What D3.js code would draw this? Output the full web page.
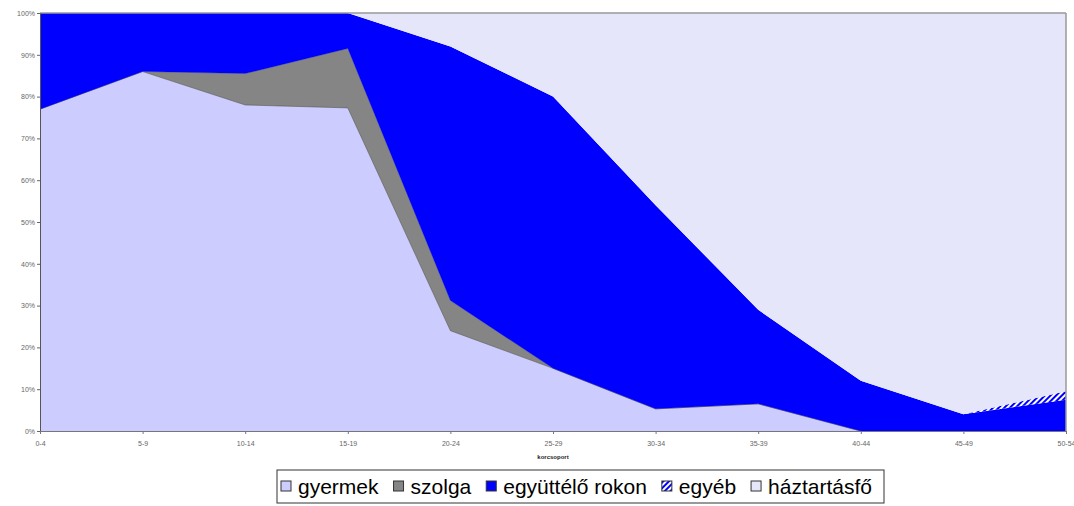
<!DOCTYPE html>
<html>
<head>
<meta charset="utf-8">
<script src="https://cdn.jsdelivr.net/npm/d3@7"></script>
<style>
  body { margin: 0; background: #fff; }
  svg { display: block; }
</style>
</head>
<body>
<script>
// korcsoportok
const ages = ["0-4", "5-9", "10-14", "15-19", "20-24", "25-29", "30-34", "35-39", "40-44", "45-49", "50-54"]

// megoszlás (%) korcsoportonként
const gyermek     = [77, 86, 78, 77.3, 24, 15, 5.3, 6.5, 0, 0, 0]
const szolga      = [0, 0, 7.5, 14.2, 7.2, 0, 0, 0, 0, 0, 0]
const rokon       = [23, 14, 14.5, 8.5, 60.8, 65, 48.7, 22.5, 12, 4, 7.5]
const egyeb       = [0, 0, 0, 0, 0, 0, 0, 0, 0, 0, 2]
const haztartasfo = [0, 0, 0, 0, 8, 20, 46, 71, 88, 96, 90.5]

const yTicks = [0, 10, 20, 30, 40, 50, 60, 70, 80, 90, 100]

const keys = ["gyermek", "szolga", "rokon", "egyeb", "haztartasfo"]
const labels = { gyermek: "gyermek", szolga: "szolga", rokon: "együttélő rokon", egyeb: "egyéb", haztartasfo: "háztartásfő" }
const colors = { gyermek: "#ccccff", szolga: "#858585", rokon: "#0000ff", egyeb: "url(#hatch)", haztartasfo: "#e6e6fa" }

// tábla a d3.stack számára
const table = ages.map((a, i) => ({
    age: a,
    gyermek: gyermek[i], szolga: szolga[i], rokon: rokon[i], egyeb: egyeb[i], haztartasfo: haztartasfo[i]
}))

const W = 1074, H = 506
const margin = { top: 13, right: 8, bottom: 75, left: 40 }
const width = W - margin.left - margin.right
const height = H - margin.top - margin.bottom

const svg = d3.select("body").append("svg")
    .attr("width", W)
    .attr("height", H)

// csíkos minta az "egyéb" kategóriához
const defs = svg.append("defs")
const pat = defs.append("pattern")
    .attr("id", "hatch")
    .attr("patternUnits", "userSpaceOnUse")
    .attr("width", 4).attr("height", 4)
    .attr("patternTransform", "rotate(45)")
pat.append("rect").attr("width", 4).attr("height", 4).attr("fill", "#ffffff")
pat.append("rect").attr("width", 2).attr("height", 4).attr("fill", "#0000ff")

const g = svg.append("g")
    .attr("transform", "translate(" + margin.left + "," + margin.top + ")")

const x = d3.scalePoint().domain(ages).range([0, width])
const y = d3.scaleLinear().domain([0, 100]).range([height, 0])

const series = d3.stack().keys(keys)(table)

const area = d3.area()
    .x(d => x(d.data.age))
    .y0(d => y(d[0]))
    .y1(d => y(d[1]))

g.selectAll("path.layer")
    .data(series)
    .join("path")
    .attr("class", "layer")
    .attr("d", area)
    .attr("fill", d => colors[d.key])
    .attr("stroke", d => d.key === "szolga" ? "#555" : "none")
    .attr("stroke-width", 0.6)

// keret
g.append("line").attr("x1", 0).attr("x2", width).attr("y1", 0).attr("y2", 0)
    .attr("stroke", "#999").attr("stroke-width", 1.5)
g.append("line").attr("x1", width).attr("x2", width).attr("y1", 0).attr("y2", height)
    .attr("stroke", "#999").attr("stroke-width", 1.5)

// Y tengely
const yAxis = g.append("g")
    .call(d3.axisLeft(y).tickValues(yTicks).tickFormat(d => d + "%").tickSize(3).tickSizeOuter(0))
yAxis.select(".domain").attr("stroke", "#555")
yAxis.selectAll(".tick line").attr("stroke", "#666")
yAxis.selectAll("text").attr("fill", "#666").style("font", "7px Arial").attr("x", -5)

// X tengely
const xAxis = g.append("g")
    .attr("transform", "translate(0," + height + ")")
    .call(d3.axisBottom(x).tickSize(3).tickSizeOuter(0))
xAxis.select(".domain").attr("stroke", "#777")
xAxis.selectAll(".tick line").attr("stroke", "#777")
xAxis.selectAll("text").attr("fill", "#666").style("font", "7px Arial").attr("y", 10)

// tengelycím
g.append("text")
    .attr("x", x("25-29"))
    .attr("y", height + 28)
    .attr("text-anchor", "middle")
    .style("font", "bold 6px Arial")
    .attr("fill", "#222")
    .text("korcsoport")

// jelmagyarázat
const legend = svg.append("g").attr("transform", "translate(277,470)")
legend.append("rect")
    .attr("width", 607).attr("height", 33)
    .attr("fill", "#fff").attr("stroke", "#333").attr("stroke-width", 1)

let lx = 4
keys.forEach(k => {
    const it = legend.append("g").attr("transform", "translate(" + lx + ",0)")
    it.append("rect")
        .attr("x", 0).attr("y", 11).attr("width", 10).attr("height", 10)
        .attr("fill", colors[k]).attr("stroke", "#333").attr("stroke-width", 1)
    const t = it.append("text")
        .attr("x", 17).attr("y", 24)
        .style("font", "21px Arial")
        .attr("fill", "#000")
        .text(labels[k])
    lx += 17 + t.node().getComputedTextLength() + 15
})
</script>
</body>
</html>
